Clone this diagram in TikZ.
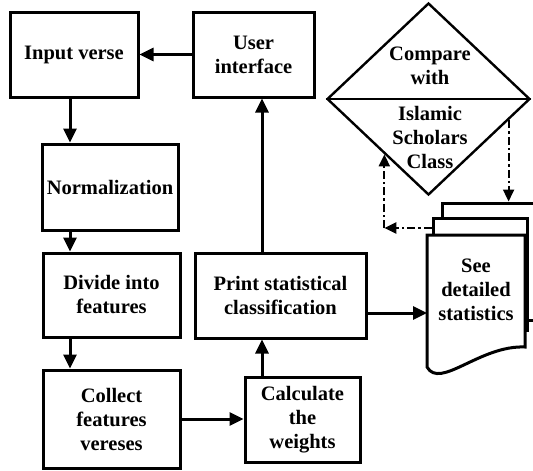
\documentclass[tikz,border=0pt]{standalone}
\usepackage{fontspec}
\setmainfont{Liberation Serif}
\usetikzlibrary{arrows.meta}
\usetikzlibrary{shapes.geometric}
\usetikzlibrary{calc}

\begin{document}
\begin{tikzpicture}[x=1pt,y=-1pt,line width=3pt,font=\fontsize{20.5}{24}\bfseries\selectfont]

\tikzstyle{every node}=[align=center,inner sep=0pt]
\tikzstyle{block}=[draw,rectangle]
\tikzstyle{arr}=[-{Triangle[length=14pt,width=13pt]}]
\tikzstyle{dashdot}=[line width=2.2pt,dash pattern=on 8pt off 3pt on 2.5pt off 3pt,-{Triangle[length=12pt,width=11pt]}]
\tikzstyle{sheet}=[draw,fill=white,rectangle]

\useasboundingbox (0,0) rectangle (533,471);

% main flow
\node[block,minimum width=128pt,minimum height=85pt] (inp) at (74,54.5) {Input verse};
\node[block,minimum width=121pt,minimum height=85pt] (ui) at (253.5,54.5) {User\\interface};
\node[block,minimum width=136pt,minimum height=86pt] (norm) at (110,187) {Normalization};
\node[block,minimum width=137pt,minimum height=84pt] (div) at (111.5,295) {Divide into\\features};
\node[block,minimum width=137pt,minimum height=98pt] (col) at (111.5,419) {Collect\\features\\vereses};
\node[block,minimum width=115pt,minimum height=85pt] (calc) at (302.5,419.5) {Calculate\\the\\weights};
\node[block,minimum width=171pt,minimum height=85pt] (prt) at (280.5,295.5) {Print statistical\\classification};

\coordinate (spine) at (70,0);
\coordinate (riser) at (262,0);

\draw[arr] (ui.west) -- (inp.east);
\draw[arr] (spine |- inp.south) -- (spine |- norm.north);
\draw[arr] (spine |- norm.south) -- (spine |- div.north);
\draw[arr] (spine |- div.south) -- (spine |- col.north);
\draw[arr] (col.east) -- (col.east -| calc.west);
\draw[arr] (riser |- calc.north) -- (riser |- prt.south);
\draw[arr] (riser |- prt.north) -- (riser |- ui.south);

% decision
\node[draw,diamond,line width=2.4pt,minimum width=203pt,minimum height=192pt] (cmp) at (428.5,99) {};
\draw[line width=2.4pt] (cmp.west) -- (cmp.east);
\node (cmptop) at (430,66) {Compare\\with};
\node (cmpbot) at (430,137) {Islamic\\Scholars\\Class};

% stack of reports
\node[sheet,minimum width=103pt,minimum height=117pt] (back) at (493.5,261.5) {};
\node[sheet,minimum width=94pt,minimum height=112pt] (mid) at (480,274) {};
\draw[fill=white] (427,235) -- (525,235) -- (525,347)
  .. controls (480,345) and (440,390) .. (427,367) -- cycle;
\node (see) at (476,290) {See\\detailed\\statistics};
\coordinate (docin) at (427,313);
\draw[arr] (prt.east |- docin) -- (docin);

\coordinate (dnout) at ($(cmp.east)!0.22!(cmp.south)$);
\coordinate (upin) at ($(cmp.west)!0.57!(cmp.south)$);
\coordinate (bend) at (upin |- 0,228);
\draw[dashdot] (dnout) -- (dnout |- back.north);
\draw[dashdot] (mid.west |- bend) -- (bend);
\draw[dashdot] (bend) -- (upin);
\end{tikzpicture}
\end{document}
